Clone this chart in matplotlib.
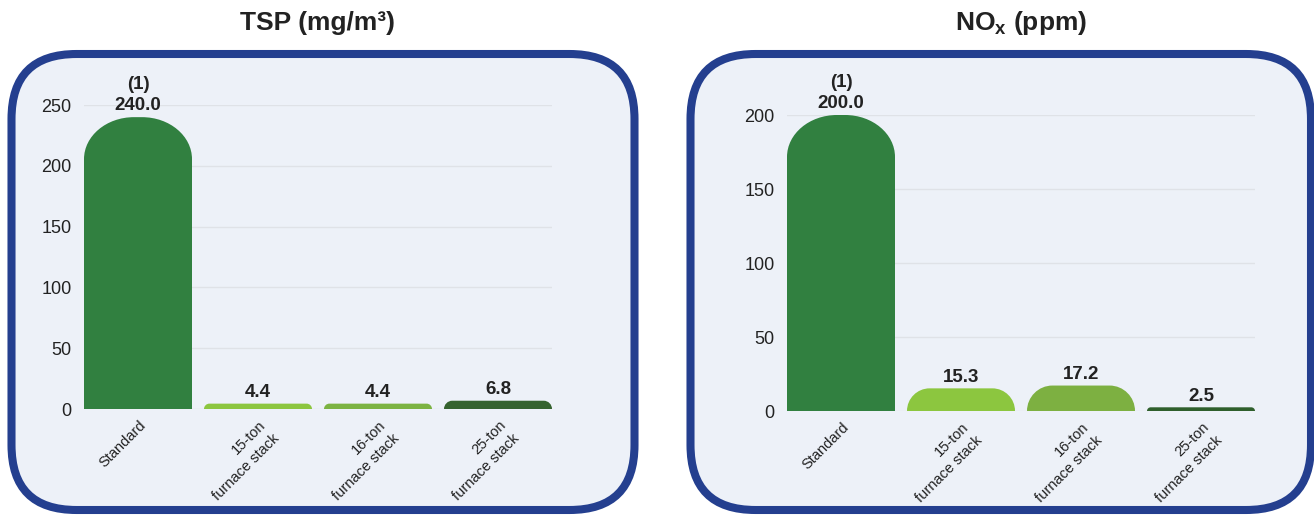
import numpy as np
import matplotlib
matplotlib.use("Agg")
import matplotlib.pyplot as plt
from matplotlib.patches import FancyBboxPatch, PathPatch
from matplotlib.path import Path
import matplotlib.transforms as mtransforms

plt.rcParams['font.family'] = ['Liberation Sans', 'DejaVu Sans']
plt.rcParams['mathtext.fontset'] = 'custom'
plt.rcParams['mathtext.rm'] = 'Liberation Sans:bold'
plt.rcParams['mathtext.bf'] = 'Liberation Sans:bold'

# data
categories = ['Standard', '15-ton\nfurnace stack', '16-ton\nfurnace stack', '25-ton\nfurnace stack']
tsp_values = [240.0, 4.4, 4.4, 6.8]
nox_values = [200.0, 15.3, 17.2, 2.5]
tsp_colors = ['#318040', '#8cc63f', '#7cb342', '#35632f']
nox_colors = ['#318040', '#8cc63f', '#7db041', '#2f5f2c']
tsp_ticks = [0, 50, 100, 150, 200, 250]
nox_ticks = [0, 50, 100, 150, 200]

W, H = 1314, 515
fig = plt.figure(figsize=(W / 100, H / 100), dpi=100, facecolor='white')
px = mtransforms.Affine2D().scale(1.0 / 100) + fig.dpi_scale_trans  # pixel coords, origin bottom-left

NAVY = '#243f8f'
PANEL = '#edf1f8'


def panel(x0, x1, y_top, y_bot):
    # y given in image coords (from top)
    b = FancyBboxPatch((x0, H - y_bot), x1 - x0, y_bot - y_top,
                       boxstyle='round,pad=0,rounding_size=65',
                       transform=px, facecolor=PANEL, edgecolor=NAVY,
                       linewidth=5.8, zorder=0)
    fig.add_artist(b)


panel(11.5, 634.5, 54, 510)
panel(690.5, 1311, 54, 510)


def rounded_bars(ax, vals, colors):
    x = np.arange(len(vals))
    bars = ax.bar(x, vals, width=0.9, color=colors)
    fig.canvas.draw()
    bb = ax.get_window_extent()
    x0l, x1l = ax.get_xlim()
    y0l, y1l = ax.get_ylim()
    sx = bb.width / (x1l - x0l)
    sy = bb.height / (y1l - y0l)
    k = 0.5523
    for rect, c in zip(bars, colors):
        bx, bw, bh = rect.get_x(), rect.get_width(), rect.get_height()
        hp = bh * sy
        rx = min(50, hp, bw * sx / 2) / sx
        ry = min(42, hp) / sy
        xa, xb = bx, bx + bw
        verts = [(xa, 0), (xa, bh - ry),
                 (xa, bh - ry + k * ry), (xa + rx - k * rx, bh), (xa + rx, bh),
                 (xb - rx, bh),
                 (xb - rx + k * rx, bh), (xb, bh - ry + k * ry), (xb, bh - ry),
                 (xb, 0), (xa, 0)]
        codes = [Path.MOVETO, Path.LINETO,
                 Path.CURVE4, Path.CURVE4, Path.CURVE4,
                 Path.LINETO,
                 Path.CURVE4, Path.CURVE4, Path.CURVE4,
                 Path.LINETO, Path.CLOSEPOLY]
        rect.remove()
        ax.add_patch(PathPatch(Path(verts, codes), facecolor=c, edgecolor='none', zorder=2))
    return x


def draw(rect, vals, colors, ticks, title):
    ax = fig.add_axes(rect)
    ax.set_facecolor('none')
    ax.set_xlim(-0.45, len(vals) - 0.55)
    ax.set_ylim(0, ticks[-1])
    for s in ax.spines.values():
        s.set_visible(False)
    ax.set_yticks(ticks)
    ax.grid(axis='y', color='#dfe2e7', linewidth=1.0, zorder=1)
    ax.set_axisbelow(True)
    ax.tick_params(axis='y', length=0, pad=9, labelsize=13, labelcolor='#222222')
    ax.tick_params(axis='x', length=0, pad=6.5, labelsize=10.5, labelcolor='#222222')
    x = rounded_bars(ax, vals, colors)
    ax.set_xticks(x)
    ax.set_xticklabels(categories, rotation=45, ha='right', va='top',
                       rotation_mode='anchor', linespacing=1.45)
    off = mtransforms.ScaledTranslation(0.5 / 100, 0, fig.dpi_scale_trans)
    for lab in ax.get_xticklabels():
        lab.set_transform(lab.get_transform() + off)
    for i, v in enumerate(vals):
        txt = f'{v:.1f}'
        if i == 0:
            txt = '(1)\n' + txt
        ax.annotate(txt, (x[i], v), xytext=(0, 2), textcoords='offset points',
                    ha='center', va='bottom', fontsize=13.5, fontweight='bold',
                    color='#222222', linespacing=1.3, clip_on=False)
    cx = rect[0] + rect[2] / 2
    fig.text(cx, 1 - 23 / H, title, ha='center', va='center', fontsize=19,
             fontweight='bold', color='#222222')
    return ax


draw([84 / W, 1 - 409 / H, 468 / W, 304 / H], tsp_values, tsp_colors, tsp_ticks,
     'TSP (mg/m³)')
draw([787 / W, 1 - 411 / H, 468 / W, 296 / H], nox_values, nox_colors, nox_ticks,
     r'NO$_{\mathbf{x}}$ (ppm)')

fig.savefig('out.png', dpi=100, facecolor='white')
